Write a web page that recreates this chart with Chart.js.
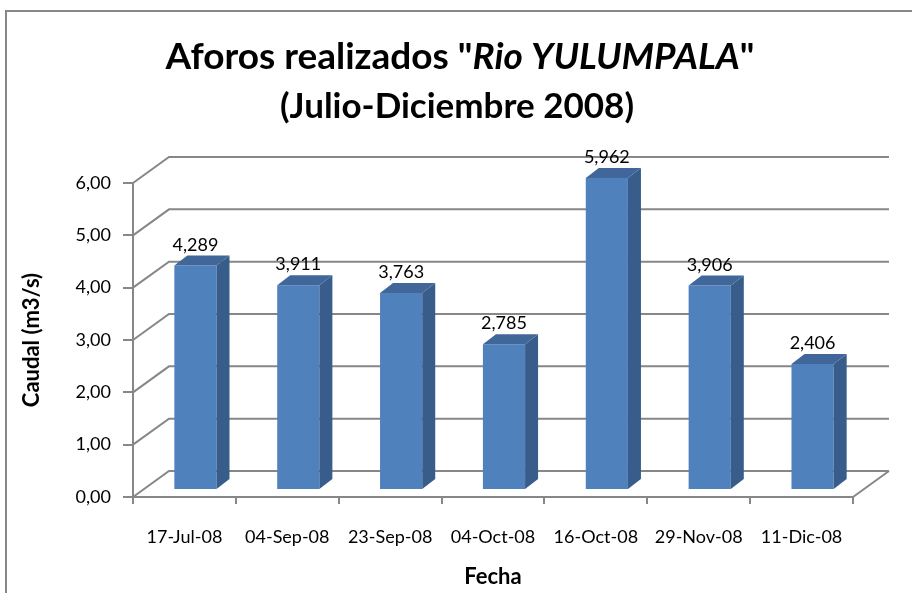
<!DOCTYPE html>
<html>
<head>
<meta charset="utf-8">
<script src="https://cdn.jsdelivr.net/npm/chart.js@4.4.0/dist/chart.umd.min.js"></script>
<style>
  html, body { margin: 0; padding: 0; background: #fff; }
</style>
</head>
<body>
<canvas id="chart" width="912" height="593"></canvas>
<script>
// data
const fechas = ["17-Jul-08", "04-Sep-08", "23-Sep-08", "04-Oct-08", "16-Oct-08", "29-Nov-08", "11-Dic-08"];
const caudal = [4.289, 3.911, 3.763, 2.785, 5.962, 3.906, 2.406];

const tituloLinea1 = [
  { text: 'Aforos realizados "', italic: false },
  { text: 'Rio YULUMPALA', italic: true },
  { text: '"', italic: false }
];
const tituloLinea2 = "(Julio-Diciembre 2008)";
const ejeY = "Caudal (m3/s)";
const ejeX = "Fecha";

// ====== fake 3D look ======
const GRID = "#878787";
const WALL_DX = 36, WALL_DY = -26;   // depth of the floor / side wall
const BAR_DX = 11, BAR_DY = -7;      // where the bar front face sits in depth
const BAR_DEPTH_X = 13, BAR_DEPTH_Y = -10;

const fmt = (v, d) => v.toFixed(d).replace(".", ",");

const frame3d = {
  id: 'frame3d',
  beforeDraw(chart) {
    const ctx = chart.ctx;
    ctx.save();
    ctx.strokeStyle = GRID;
    ctx.lineWidth = 2;
    ctx.beginPath();
    ctx.moveTo(6, 593);
    ctx.lineTo(6, 11);
    ctx.lineTo(912, 11);
    ctx.stroke();

    // title, with the river name in italics
    const font = (it, sz) => (it ? "italic " : "") + "bold " + sz + "px Lato";
    let w = 0;
    tituloLinea1.forEach(s => { ctx.font = font(s.italic, 37); w += ctx.measureText(s.text).width; });
    let x = 460 - w / 2;
    ctx.fillStyle = "#000";
    ctx.textBaseline = "middle";
    ctx.textAlign = "left";
    tituloLinea1.forEach(s => {
      ctx.font = font(s.italic, 37);
      ctx.fillText(s.text, x, 57);
      x += ctx.measureText(s.text).width;
    });
    ctx.font = font(false, 35);
    ctx.textAlign = "center";
    ctx.fillText(tituloLinea2, 457, 107);
    ctx.restore();
  },
  beforeDatasetsDraw(chart) {
    const ctx = chart.ctx;
    const { left, right } = chart.chartArea;
    const y = chart.scales.y;
    ctx.save();
    ctx.strokeStyle = GRID;
    ctx.lineWidth = 2;
    ctx.beginPath();
    y.ticks.forEach(t => {
      const py = y.getPixelForValue(t.value);
      ctx.moveTo(left, py);
      ctx.lineTo(left + WALL_DX, py + WALL_DY);
      ctx.lineTo(right + WALL_DX, py + WALL_DY);
    });
    // right edge of the floor
    const p0 = y.getPixelForValue(0);
    ctx.moveTo(right, p0);
    ctx.lineTo(right + WALL_DX, p0 + WALL_DY);
    ctx.stroke();
    ctx.restore();

    ctx.save();
    ctx.translate(BAR_DX, BAR_DY);
  },
  afterDatasetsDraw(chart) {
    const ctx = chart.ctx;
    const meta = chart.getDatasetMeta(0);
    meta.data.forEach((bar, i) => {
      const p = bar.getProps(['x', 'y', 'base', 'width'], true);
      const l = p.x - p.width / 2, r = p.x + p.width / 2;
      // side
      ctx.fillStyle = "#385d8a";
      ctx.beginPath();
      ctx.moveTo(r, p.y);
      ctx.lineTo(r + BAR_DEPTH_X, p.y + BAR_DEPTH_Y);
      ctx.lineTo(r + BAR_DEPTH_X, p.base + BAR_DEPTH_Y);
      ctx.lineTo(r, p.base);
      ctx.closePath();
      ctx.fill();
      // top
      ctx.fillStyle = "#40669a";
      ctx.beginPath();
      ctx.moveTo(l, p.y);
      ctx.lineTo(l + BAR_DEPTH_X, p.y + BAR_DEPTH_Y);
      ctx.lineTo(r + BAR_DEPTH_X, p.y + BAR_DEPTH_Y);
      ctx.lineTo(r, p.y);
      ctx.closePath();
      ctx.fill();
      // value label
      ctx.fillStyle = "#000";
      ctx.font = "18px Lato";
      ctx.textAlign = "center";
      ctx.textBaseline = "alphabetic";
      ctx.fillText(fmt(caudal[i], 3), p.x, p.y + BAR_DEPTH_Y - 5);
    });
    ctx.restore();
  }
};

const ctx = document.getElementById('chart').getContext('2d');
new Chart(ctx, {
  type: 'bar',
  data: {
    labels: fechas,
    datasets: [{
      data: caudal,
      backgroundColor: "#4f81bd",
      categoryPercentage: 1,
      barPercentage: 0.41,
      clip: false
    }]
  },
  plugins: [frame3d],
  options: {
    responsive: false,
    animation: false,
    layout: { padding: { top: 183, right: 59, left: 0, bottom: 0 } },
    plugins: {
      legend: { display: false },
      tooltip: { enabled: false }
    },
    scales: {
      y: {
        min: 0, max: 6,
        ticks: { stepSize: 1, padding: 12, color: "#000", font: { family: "Lato", size: 18 },
                 callback: v => fmt(v, 2) },
        grid: { drawOnChartArea: false, tickLength: 10, color: GRID, lineWidth: 2 },
        border: { color: GRID, width: 2 },
        title: { display: true, text: ejeY, color: "#000", padding: { top: 19, bottom: 0 },
                 font: { family: "Lato", size: 22, weight: "bold" } },
        afterFit: a => { a.width = 133; }
      },
      x: {
        ticks: { padding: 22, color: "#000", font: { family: "Lato", size: 18 }, maxRotation: 0 },
        grid: { drawOnChartArea: false, tickLength: 7, color: GRID, lineWidth: 2 },
        border: { color: GRID, width: 2 },
        title: { display: true, text: ejeX, color: "#000", padding: { top: 0, bottom: 3 },
                 font: { family: "Lato", size: 22, weight: "bold" } },
        afterFit: a => { a.height = 96; }
      }
    }
  }
});
</script>
</body>
</html>
